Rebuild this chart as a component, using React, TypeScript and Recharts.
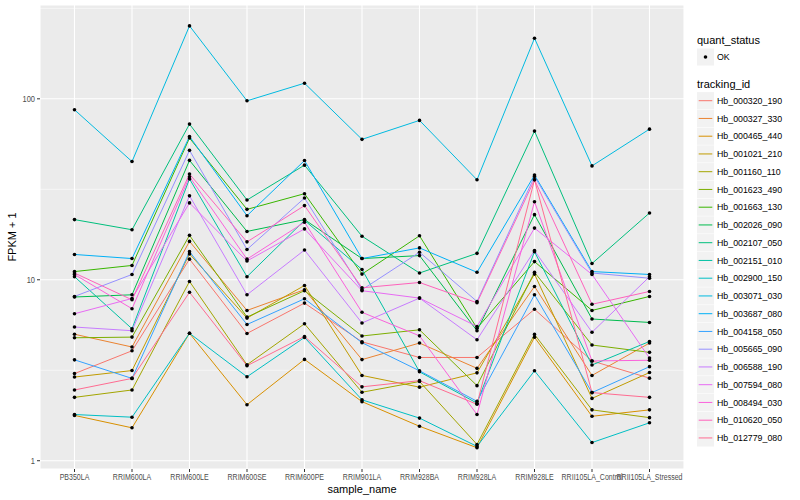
import React from "react";
import { LineChart, Line, XAxis, YAxis, CartesianGrid, ReferenceLine } from "recharts";

const categories = [
  "PB350LA", "RRIM600LA", "RRIM600LE", "RRIM600SE", "RRIM600PE", "RRIM901LA",
  "RRIM928BA", "RRIM928LA", "RRIM928LE", "RRII105LA_Control", "RRII105LA_Stressed",
];

const trackingIds = [
  "Hb_000320_190", "Hb_000327_330", "Hb_000465_440", "Hb_001021_210", "Hb_001160_110",
  "Hb_001623_490", "Hb_001663_130", "Hb_002026_090", "Hb_002107_050", "Hb_002151_010",
  "Hb_002900_150", "Hb_003071_030", "Hb_003687_080", "Hb_004158_050", "Hb_005665_090",
  "Hb_006588_190", "Hb_007594_080", "Hb_008494_030", "Hb_010620_050", "Hb_012779_080",
];

const colors = [
  "#F8766D", "#EA8331", "#D89000", "#C09B00", "#A3A500", "#7CAE00", "#39B600", "#00BB4E",
  "#00BF7D", "#00C1A3", "#00BFC4", "#00BAE0", "#00B0F6", "#35A2FF", "#9590FF", "#C77CFF",
  "#E76BF3", "#FA62DB", "#FF62BC", "#FF6C91",
];

const hb000320 = [3.03, 4.05, 13.0, 5.05, 7.43, 4.54, 3.72, 3.72, 6.87, 3.56, 2.86];
const hb000327 = [5.0, 4.25, 16.3, 6.77, 8.81, 3.62, 4.47, 3.24, 9.18, 2.96, 4.47];
const hb000465 = [1.78, 1.52, 5.06, 2.04, 3.63, 2.12, 1.55, 1.18, 4.81, 1.76, 1.91];
const hb001021 = [2.9, 3.15, 13.9, 6.14, 9.3, 2.96, 2.55, 3.06, 10.75, 2.21, 3.07];
const hb001160 = [2.24, 2.46, 9.79, 3.39, 5.71, 2.39, 2.74, 1.23, 4.99, 1.91, 1.73];
const hb001623 = [4.78, 4.82, 17.6, 6.22, 8.7, 4.89, 5.29, 2.6, 11.0, 4.36, 3.97];
const hb001663 = [11.1, 12.0, 60.7, 24.5, 29.9, 10.75, 17.5, 5.4, 12.6, 6.77, 8.09];
const hb002026 = [8.03, 8.26, 45.7, 18.5, 21.5, 13.1, 13.6, 5.23, 22.9, 6.07, 5.81];
const hb002107 = [21.5, 18.9, 72.5, 27.6, 43.0, 17.4, 10.9, 14.0, 66.3, 12.3, 23.4];
const hb002151 = [10.4, 5.36, 36.1, 10.4, 21.3, 11.4, 3.1, 2.08, 14.3, 3.38, 4.56];
const hb002900 = [1.8, 1.74, 5.06, 2.91, 4.8, 2.17, 1.72, 1.2, 3.14, 1.26, 1.62];
const hb003071 = [87, 45, 253, 97.5, 122, 59.7, 76, 35.7, 216, 42.6, 68];
const hb003687 = [13.8, 13.1, 61.9, 22.6, 45.6, 13.1, 15.0, 11.0, 37.9, 11.1, 10.7];
const hb004158 = [3.61, 2.85, 14.3, 5.66, 7.85, 4.49, 3.14, 2.13, 8.26, 2.38, 3.31];
const hb005665 = [8.09, 10.7, 51.9, 14.7, 28.3, 8.81, 14.2, 7.59, 37.2, 10.9, 10.2];
const hb006588 = [5.48, 5.23, 29.1, 8.26, 14.6, 5.77, 7.92, 4.66, 14.5, 5.13, 10.4];
const hb007594 = [6.49, 7.88, 26.6, 12.7, 19.1, 8.7, 7.92, 5.52, 19.3, 10.7, 3.69];
const hb008494 = [10.7, 6.92, 37.1, 13.0, 20.8, 6.61, 4.9, 1.8, 27.0, 3.56, 3.59];
const hb010620 = [10.9, 7.75, 38.4, 16.2, 25.7, 9.03, 9.66, 7.46, 35.7, 7.32, 8.62];
const hb012779 = [2.46, 2.85, 8.53, 3.35, 4.86, 2.56, 2.77, 2.05, 35.7, 2.38, 2.24];

const seriesValues = [
  hb000320, hb000327, hb000465, hb001021, hb001160, hb001623, hb001663, hb002026, hb002107, hb002151,
  hb002900, hb003071, hb003687, hb004158, hb005665, hb006588, hb007594, hb008494, hb010620, hb012779,
];

const yTicks = [1, 10, 100];
const yMinor = [3.1623, 31.623, 316.23];
const yDomain = [0.9, 330];

const data = categories.map((c, i) => {
  const row: Record<string, any> = { name: c };
  trackingIds.forEach((id, s) => {
    row[id] = seriesValues[s][i];
  });
  return row;
});

const FONT = "'Liberation Sans', Arial, Helvetica, sans-serif";

const Dot = (props: any) => {
  const { cx, cy } = props;
  if (cx == null || cy == null) return null;
  return <circle cx={cx} cy={cy} r={1.8} fill="#000" />;
};

const XTick = (props: any) => {
  const { x, y, payload } = props;
  return (
    <g transform={`translate(${x},${y})`}>
      <text
        transform="scale(0.8,1)"
        x={0}
        y={0}
        dy="0.71em"
        textAnchor="middle"
        fontSize={8.8}
        fill="#4D4D4D"
        fontFamily={FONT}
      >
        {payload.value}
      </text>
    </g>
  );
};

const YTick = (props: any) => {
  const { x, y, payload } = props;
  return (
    <g transform={`translate(${x},${y})`}>
      <text
        transform="scale(0.85,1)"
        x={0}
        y={0}
        dy="0.355em"
        textAnchor="end"
        fontSize={8.8}
        fill="#4D4D4D"
        fontFamily={FONT}
      >
        {payload.value}
      </text>
    </g>
  );
};

export default function App() {
  return (
    <div style={{ position: "absolute", left: 0, top: 0, width: 800, height: 500, background: "#fff", fontFamily: FONT }}>
      <LineChart
        width={800}
        height={500}
        data={data}
        margin={{ top: 5, right: 116, bottom: 0, left: 0 }}
      >
        <CartesianGrid fill="#EBEBEB" stroke="#FFFFFF" strokeWidth={1.1} />
        {yMinor.map((v) => (
          <ReferenceLine key={v} y={v} stroke="#FFFFFF" strokeWidth={0.55} ifOverflow="hidden" />
        ))}
        <XAxis
          dataKey="name"
          interval={0}
          padding={{ left: 34.5, right: 34.5 }}
          height={31}
          tickSize={3}
          tickMargin={2}
          axisLine={false}
          tickLine={{ stroke: "#333333" }}
          tick={<XTick />}
        />
        <YAxis
          scale="log"
          domain={yDomain}
          allowDataOverflow
          ticks={yTicks}
          width={40}
          tickSize={3}
          tickMargin={2}
          axisLine={false}
          tickLine={{ stroke: "#333333" }}
          tick={<YTick />}
        />
        {trackingIds.map((id, s) => (
          <Line
            key={"l" + id}
            type="linear"
            dataKey={id}
            stroke={colors[s]}
            strokeWidth={1}
            dot={false}
            activeDot={false}
            isAnimationActive={false}
          />
        ))}
        {trackingIds.map((id) => (
          <Line
            key={"p" + id}
            type="linear"
            dataKey={id}
            stroke="none"
            dot={<Dot />}
            activeDot={false}
            legendType="none"
            isAnimationActive={false}
          />
        ))}
      </LineChart>
      <svg
        width={800}
        height={500}
        style={{ position: "absolute", left: 0, top: 0, pointerEvents: "none" }}
      >
        <text x={362} y={493} textAnchor="middle" fontSize={11} fill="#000" fontFamily={FONT}>
          sample_name
        </text>
        <text
          x={16}
          y={237}
          textAnchor="middle"
          fontSize={11}
          fill="#000"
          fontFamily={FONT}
          transform="rotate(-90 16 237)"
        >
          FPKM + 1
        </text>
        <text x={697} y={44} fontSize={11} fill="#000" fontFamily={FONT}>
          quant_status
        </text>
        <rect x={697} y={48.5} width={17} height={17} fill="#F2F2F2" />
        <circle cx={705.5} cy={57} r={1.8} fill="#000" />
        <text x={717} y={60} fontSize={8.8} fill="#000" fontFamily={FONT}>
          OK
        </text>
        <text x={697} y={88} fontSize={11} fill="#000" fontFamily={FONT}>
          tracking_id
        </text>
        {trackingIds.map((id, s) => {
          const cy = 100.7 + s * 17.75;
          return (
            <g key={"lg" + id}>
              <rect x={697} y={cy - 8.6} width={17} height={17.2} fill="#F2F2F2" />
              <line x1={698.7} x2={712.3} y1={cy} y2={cy} stroke={colors[s]} strokeWidth={1} />
              <text x={717} y={cy + 3.1} fontSize={8.8} fill="#000" fontFamily={FONT}>
                {id}
              </text>
            </g>
          );
        })}
      </svg>
    </div>
  );
}
